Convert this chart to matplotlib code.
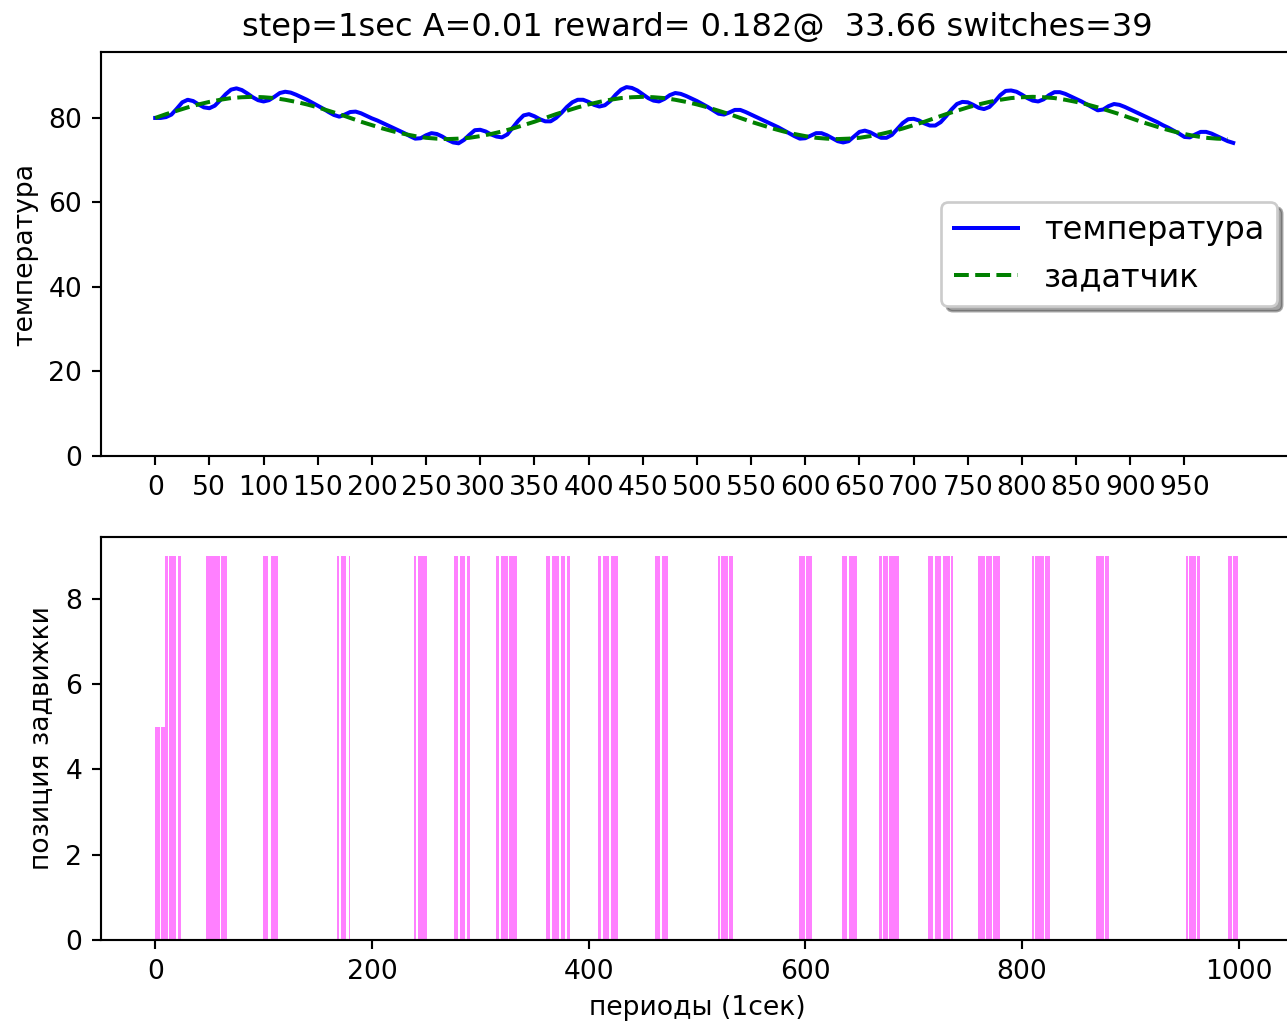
import numpy as np
import matplotlib
matplotlib.use("Agg")
import matplotlib.pyplot as plt

# температура, отсчёты каждые 5 сек (0..995)
temp_t = np.arange(0, 1000, 5)
temperature = [
    80.0, 80.0, 80.2, 80.8, 82.2, 83.7, 84.3, 84.0, 83.2, 82.5,
    82.3, 82.9, 84.2, 85.6, 86.7, 87.0, 86.6, 85.8, 84.9, 84.2,
    83.9, 84.2, 85.0, 85.9, 86.2, 86.0, 85.5, 84.9, 84.3, 83.6,
    82.9, 82.2, 81.4, 80.7, 80.3, 80.8, 81.4, 81.5, 81.1, 80.5,
    79.9, 79.4, 78.8, 78.2, 77.6, 77.0, 76.4, 75.7, 75.1, 75.2,
    75.9, 76.4, 76.2, 75.6, 74.8, 74.2, 74.0, 74.8, 76.0, 77.1,
    77.2, 76.8, 76.1, 75.6, 75.4, 76.1, 77.7, 79.3, 80.6, 80.9,
    80.4, 79.7, 79.2, 79.2, 80.0, 81.2, 82.6, 83.7, 84.3, 84.3,
    83.8, 83.1, 82.7, 83.0, 84.0, 85.5, 86.7, 87.3, 87.1, 86.5,
    85.6, 84.7, 84.1, 83.9, 84.5, 85.4, 85.9, 85.7, 85.2, 84.6,
    84.0, 83.3, 82.6, 81.8, 81.0, 80.8, 81.3, 81.9, 81.9, 81.4,
    80.8, 80.2, 79.6, 79.0, 78.4, 77.8, 77.1, 76.4, 75.7, 75.1,
    75.2, 75.8, 76.4, 76.4, 75.9, 75.2, 74.5, 74.2, 74.5, 75.6,
    76.7, 77.0, 76.6, 75.9, 75.3, 75.3, 76.0, 77.4, 78.8, 79.7,
    79.8, 79.4, 78.7, 78.2, 78.2, 79.0, 80.4, 82.0, 83.3, 83.8,
    83.7, 83.1, 82.4, 82.1, 82.6, 83.9, 85.4, 86.4, 86.5, 86.2,
    85.5, 84.7, 84.1, 83.9, 84.4, 85.4, 86.1, 86.1, 85.7, 85.1,
    84.5, 83.9, 83.2, 82.5, 81.8, 82.0, 82.8, 83.3, 83.1, 82.6,
    82.0, 81.4, 80.8, 80.2, 79.6, 79.0, 78.3, 77.7, 77.0, 76.3,
    75.5, 75.4, 76.1, 76.7, 76.7, 76.3, 75.7, 75.1, 74.5, 74.1,
]

# задатчик, отсчёты каждые 10 сек (0..990)
setpoint_t = np.arange(0, 1000, 10)
setpoint = [
    80.0, 80.9, 81.7, 82.5, 83.2, 83.8, 84.3, 84.7, 84.9, 85.0,
    84.9, 84.7, 84.3, 83.8, 83.2, 82.5, 81.7, 80.9, 80.0, 79.1,
    78.3, 77.5, 76.8, 76.2, 75.7, 75.3, 75.1, 75.0, 75.1, 75.3,
    75.7, 76.2, 76.8, 77.5, 78.3, 79.1,
    80.0, 80.9, 81.7, 82.5, 83.2, 83.8, 84.3, 84.7, 84.9, 85.0,
    84.9, 84.7, 84.3, 83.8, 83.2, 82.5, 81.7, 80.9, 80.0, 79.1,
    78.3, 77.5, 76.8, 76.2, 75.7, 75.3, 75.1, 75.0, 75.1, 75.3,
    75.7, 76.2, 76.8, 77.5, 78.3, 79.1,
    80.0, 80.9, 81.7, 82.5, 83.2, 83.8, 84.3, 84.7, 84.9, 85.0,
    84.9, 84.7, 84.3, 83.8, 83.2, 82.5, 81.7, 80.9, 80.0, 79.1,
    78.3, 77.5, 76.8, 76.2, 75.7, 75.3, 75.1, 75.0,
]

# позиция задвижки: интервалы (включительно) со значением 5 и 9, остальное 0
n_periods = 1000
valve_runs_5 = [(0, 4), (6, 9)]
valve_runs_9 = [
    (10, 11), (13, 19), (22, 23),
    (47, 59), (61, 66),
    (100, 104), (107, 113),
    (168, 169), (172, 176), (179, 179),
    (239, 240), (243, 250),
    (276, 279), (282, 285), (288, 290),
    (315, 317), (320, 325), (327, 333),
    (361, 364), (367, 372), (375, 378), (381, 382),
    (409, 411), (414, 418), (421, 427),
    (462, 465), (468, 473),
    (520, 521), (523, 528), (530, 533),
    (595, 599), (601, 606),
    (634, 638), (641, 647),
    (669, 670), (672, 676), (678, 686),
    (714, 717), (720, 725), (728, 733), (735, 736),
    (760, 765), (767, 772), (774, 779),
    (810, 811), (813, 820), (822, 825),
    (869, 875), (877, 880),
    (952, 953), (955, 960), (962, 964),
    (991, 993), (995, 999),
]

valve = np.zeros(n_periods)
for a, b in valve_runs_5:
    valve[a:b + 1] = 5
for a, b in valve_runs_9:
    valve[a:b + 1] = 9

DPI = 192
fig = plt.figure(figsize=(1287 / DPI, 1022 / DPI), dpi=DPI)

ax1 = fig.add_axes([0.0785, 0.5538, 0.926, 0.3953])
ax1.plot(temp_t, temperature, "b-", label="температура")
ax1.plot(setpoint_t, setpoint, "g--", label="задатчик")
ax1.set_xlim(-50, 1050)
ax1.set_ylim(0, 95.6)
ax1.set_xticks(range(0, 1000, 50))
ax1.set_ylabel("температура")
ax1.set_title("step=1sec A=0.01 reward= 0.182@  33.66 switches=39")
ax1.legend(loc="center right", shadow=True, fontsize=12)

ax2 = fig.add_axes([0.0785, 0.0802, 0.926, 0.3943])
# magenta с alpha 0.5 на белом фоне
ax2.bar(range(n_periods), valve, width=1.0, color="#ff80ff", linewidth=0)
ax2.set_xlim(-50, 1050)
ax2.set_xlabel("периоды (1сек)")
ax2.set_ylabel("позиция задвижки")

fig.savefig("out.png", dpi=DPI)
